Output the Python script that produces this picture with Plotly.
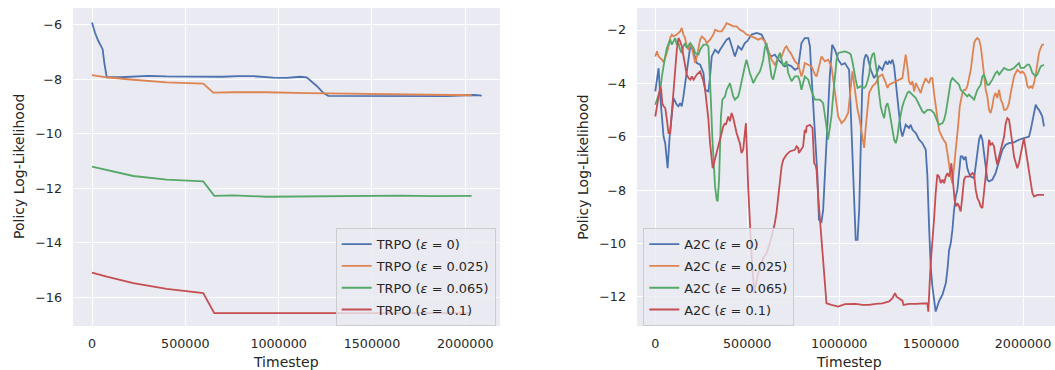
import numpy as np
import plotly.graph_objects as go

# ---------------- data (timesteps in thousands) ----------------
labels_eps = ["0", "0.025", "0.065", "0.1"]
colors = ["#4C72B0", "#DD8452", "#55A868", "#C44E52"]

trpo0_t = [0, 16, 34, 52, 57, 66, 79, 150, 221, 300, 400, 500, 614, 700, 780, 864, 971, 1043, 1114, 1150, 1204, 1239, 1266, 1382, 1471, 1600, 1700, 1829, 1900, 2007, 2050, 2088]
trpo0_v = [-5.92, -6.30, -6.60, -6.80, -6.90, -7.40, -7.93, -7.93, -7.90, -7.88, -7.90, -7.91, -7.90, -7.91, -7.89, -7.89, -7.94, -7.95, -7.91, -7.93, -8.25, -8.50, -8.61, -8.61, -8.63, -8.62, -8.63, -8.63, -8.62, -8.59, -8.58, -8.60]

trpo1_t = [0, 79, 221, 400, 596, 650, 757, 936, 1150, 1330, 1471, 1650, 1829, 2034]
trpo1_v = [-7.85, -7.93, -8.02, -8.12, -8.16, -8.49, -8.48, -8.48, -8.51, -8.53, -8.55, -8.56, -8.58, -8.59]

trpo2_t = [0, 79, 221, 400, 596, 655, 757, 936, 1150, 1330, 1471, 1650, 1829, 2034]
trpo2_v = [-11.21, -11.34, -11.55, -11.68, -11.75, -12.28, -12.26, -12.31, -12.30, -12.29, -12.27, -12.27, -12.29, -12.28]

trpo3_t = [0, 79, 221, 400, 596, 655, 850, 1100, 1400, 1700, 2034]
trpo3_v = [-15.09, -15.24, -15.48, -15.69, -15.84, -16.58, -16.58, -16.58, -16.58, -16.58, -16.58]

a2c0_t = [0, 18, 27, 36, 45, 54, 67, 78, 90, 99, 117, 126, 135, 144, 153, 171, 181, 190, 204, 217, 226, 244, 262, 271, 289, 298, 307, 325, 343, 352, 370, 388, 402, 415, 433, 451, 469, 487, 500,
          524, 551, 578, 596, 614, 632, 650, 669, 687, 705, 723, 741, 759, 777, 795, 813, 832, 841, 850, 868, 882, 890, 904, 913, 931, 949, 962, 977, 995, 1013, 1031,
          1054, 1063, 1072, 1081, 1090, 1100, 1109, 1118, 1127, 1136, 1145, 1154, 1163, 1172, 1190, 1203, 1217, 1235, 1245, 1254, 1263, 1272, 1281, 1290, 1299, 1308, 1317, 1326, 1335, 1344, 1353, 1362, 1380, 1389, 1399, 1417, 1435, 1453, 1471, 1480, 1489, 1498, 1507, 1516, 1525, 1534, 1543, 1562, 1580, 1589, 1598, 1607, 1616, 1625, 1634, 1643,
          1652, 1661, 1670, 1679, 1688, 1697, 1706, 1716, 1734, 1743, 1752, 1761, 1770, 1779, 1788, 1797, 1806, 1815, 1833, 1851, 1870, 1888, 1906, 1924, 1951, 1978, 2005, 2033, 2042, 2056, 2069, 2078, 2087, 2096, 2105, 2114]
a2c0_v = [-4.30, -3.43, -4.49, -5.24, -5.99, -6.24, -7.18, -5.99, -4.99, -4.55, -4.80, -4.86, -4.74, -4.86, -4.49, -3.49, -2.99, -2.61, -2.74, -3.05, -3.24, -3.30, -3.61, -4.24, -4.30, -3.74, -2.99, -2.74, -2.86, -2.74, -2.55, -2.36, -2.30, -2.61, -2.99, -2.61, -2.74, -2.49, -2.42,
          -2.17, -2.11, -2.17, -2.42, -2.86, -2.99, -2.92, -3.11, -3.24, -3.36, -3.30, -3.36, -3.49, -3.42, -2.49, -2.30, -2.30, -2.61, -3.74, -5.61, -7.49, -9.11, -9.18, -8.74, -6.24, -3.74, -2.55, -2.74, -3.11, -3.30, -3.24,
          -3.49, -4.99, -6.86, -8.74, -9.86, -9.86, -8.74, -6.24, -3.74, -3.11, -2.92, -2.99, -3.30, -3.49, -3.80, -3.67, -3.36, -3.49, -3.30, -3.17, -3.30, -3.17, -3.24, -3.11, -3.36, -3.99, -4.61, -5.24, -5.74, -5.99, -5.74, -5.55, -5.67, -5.55, -5.74, -5.86, -6.11, -6.24, -6.49, -7.49, -9.36, -10.86, -11.61, -12.11, -12.55, -12.36, -12.17, -11.92, -11.49, -10.99, -10.24, -9.99, -9.49, -8.74, -8.24, -7.99,
          -7.24, -6.74, -6.74, -6.86, -6.74, -7.18, -7.36, -7.49, -7.55, -7.11, -6.49, -6.11, -5.92, -6.11, -6.61, -7.24, -7.61, -7.67, -7.61, -7.36, -6.86, -6.49, -6.30, -6.24, -6.21, -6.11, -6.05, -5.99, -5.74, -5.24, -4.80, -4.92, -4.99, -5.11, -5.24, -5.61]

a2c1_t = [0, 9, 18, 36, 45, 54, 63, 72, 81, 90, 99, 117, 126, 135, 144, 153, 162, 171, 181, 190, 199, 208, 217, 226, 235, 244, 253, 271, 280, 298, 316, 325, 343, 361, 379, 388, 406, 424, 442, 460, 478, 496,
          524, 560, 578, 596, 614, 632, 650, 669, 687, 705, 714, 723, 741, 759, 777, 795, 804, 813, 832, 850, 868, 877, 886, 904, 922, 940, 958, 967, 977, 986, 995, 1013, 1031, 1049,
          1063, 1072, 1081, 1090, 1100, 1109, 1118, 1127, 1136, 1145, 1154, 1163, 1181, 1199, 1217, 1235, 1254, 1263, 1272, 1308, 1344, 1353, 1362, 1371, 1380, 1389, 1399, 1408, 1417, 1435, 1444, 1453, 1471, 1480, 1489, 1498, 1507, 1516, 1525, 1534, 1543, 1562, 1580, 1589, 1598, 1607, 1616, 1628, 1638, 1647,
          1656, 1665, 1670, 1679, 1688, 1697, 1706, 1716, 1725, 1734, 1743, 1752, 1761, 1770, 1779, 1788, 1797, 1806, 1815, 1824, 1833, 1842, 1851, 1860, 1870, 1879, 1888, 1897, 1906, 1915, 1924, 1933, 1942, 1951, 1960, 1969, 1978, 1987, 1996, 2005, 2014, 2024, 2033, 2042, 2051, 2060, 2069, 2078, 2087, 2096, 2105, 2114]
a2c1_v = [-2.99, -2.80, -2.99, -3.11, -3.21, -3.05, -2.86, -2.61, -2.30, -2.17, -2.24, -2.17, -2.11, -2.05, -1.92, -2.17, -2.30, -2.61, -2.74, -2.49, -2.67, -2.99, -3.24, -2.99, -2.61, -2.36, -2.24, -2.36, -2.49, -2.36, -2.17, -1.99, -2.05, -2.05, -1.86, -1.74, -1.80, -1.86, -1.86, -1.99, -2.05, -2.17,
          -2.24, -2.36, -2.30, -2.42, -2.74, -3.11, -3.30, -3.05, -2.99, -2.67, -2.61, -2.74, -2.92, -3.17, -3.30, -3.74, -3.55, -3.24, -3.30, -3.36, -3.67, -3.74, -3.49, -2.99, -3.17, -3.11, -3.36, -3.86, -4.36, -4.86, -5.24, -5.49, -5.36, -5.11,
          -4.24, -3.55, -3.99, -4.49, -4.99, -5.24, -5.61, -5.99, -6.42, -5.61, -4.86, -4.36, -4.11, -3.99, -3.74, -3.67, -3.99, -4.17, -4.05, -3.92, -3.80, -3.36, -2.92, -3.36, -3.92, -4.05, -3.92, -4.30, -3.99, -4.24, -4.36, -4.11, -3.80, -3.92, -3.99, -3.80, -3.80, -4.36, -4.86, -5.36, -5.74, -6.05, -6.24, -6.61, -7.11, -7.49, -7.74, -7.00, -6.30, -5.60,
          -4.86, -4.49, -4.36, -4.24, -4.24, -4.11, -3.86, -3.49, -2.99, -2.49, -2.36, -2.30, -2.36, -2.61, -3.11, -3.74, -4.24, -4.49, -4.99, -5.11, -4.86, -4.49, -4.36, -4.55, -4.24, -4.61, -4.74, -4.99, -4.99, -4.92, -4.74, -4.36, -4.05, -3.74, -3.61, -3.49, -3.55, -3.61, -3.55, -3.61, -3.74, -4.11, -4.17, -4.11, -4.17, -3.99, -3.67, -3.24, -2.86, -2.67, -2.55, -2.55]

a2c2_t = [0, 9, 18, 27, 36, 45, 54, 63, 72, 81, 90, 99, 108, 117, 126, 135, 144, 153, 162, 171, 190, 208, 217, 235, 244, 262, 280, 289, 298, 303, 310, 316, 325, 334, 339, 347, 352, 357, 365, 379, 388, 397, 406, 415, 424, 433, 451, 460, 469, 478, 487, 496,
          505, 514, 524, 533, 551, 569, 578, 587, 596, 605, 614, 623, 632, 641, 650, 659, 669, 678, 687, 696, 714, 723, 741, 759, 777, 786, 795, 804, 813, 832, 841, 850, 868, 895, 913, 922, 931, 940, 949, 958, 967, 977, 986, 995, 1031,
          1054, 1063, 1072, 1081, 1090, 1100, 1118, 1136, 1145, 1154, 1163, 1172, 1181, 1190, 1199, 1208, 1217, 1226, 1235, 1245, 1254, 1263, 1272, 1281, 1290, 1299, 1308, 1317, 1326, 1335, 1344, 1353, 1362, 1371, 1380, 1399, 1417, 1435, 1453, 1462, 1480, 1498, 1516, 1534, 1543, 1562, 1571, 1580, 1589, 1598, 1607, 1616, 1634, 1652,
          1661, 1679, 1697, 1706, 1725, 1734, 1743, 1752, 1770, 1779, 1788, 1797, 1806, 1815, 1833, 1851, 1860, 1870, 1888, 1897, 1915, 1933, 1951, 1969, 1978, 1987, 2005, 2024, 2033, 2042, 2051, 2069, 2078, 2096, 2114]
a2c2_v = [-4.80, -4.61, -4.42, -4.24, -3.74, -3.30, -2.99, -2.67, -2.49, -2.36, -2.55, -2.42, -2.30, -2.55, -2.49, -2.74, -2.86, -2.61, -2.49, -2.67, -2.49, -2.67, -2.86, -2.92, -2.74, -2.55, -2.55, -2.61, -3.74, -4.74, -5.99, -6.99, -7.86, -8.36, -8.42, -7.61, -6.24, -5.24, -4.61, -4.49, -4.24, -4.11, -3.99, -4.24, -4.49, -4.61, -4.49, -4.24, -3.92, -3.74, -3.36, -3.11,
          -3.42, -3.61, -3.80, -3.99, -3.74, -3.55, -3.36, -3.11, -2.67, -2.49, -2.86, -3.42, -3.74, -3.86, -3.61, -3.36, -2.99, -2.86, -3.11, -3.36, -3.17, -3.61, -3.92, -3.74, -3.74, -3.92, -4.24, -3.92, -3.74, -3.86, -4.11, -4.30, -4.61, -4.61, -4.74, -5.11, -5.61, -6.11, -5.74, -5.24, -4.49, -3.74, -3.11, -2.86, -2.80,
          -2.86, -2.92, -3.17, -3.61, -3.86, -4.17, -4.11, -4.17, -4.11, -3.92, -3.67, -3.11, -2.92, -2.86, -3.24, -3.74, -4.36, -4.86, -5.11, -5.30, -4.86, -4.74, -4.99, -5.36, -5.74, -6.11, -6.24, -5.99, -5.49, -5.11, -4.86, -4.67, -4.49, -4.36, -4.30, -4.42, -4.55, -4.80, -5.05, -5.11, -4.99, -4.99, -5.11, -5.42, -5.55, -5.49, -5.36, -5.11, -4.74, -4.36, -3.92, -3.80, -3.92, -4.05,
          -4.24, -4.36, -4.49, -4.42, -4.55, -4.61, -4.42, -4.24, -4.05, -3.74, -3.67, -3.86, -4.05, -4.05, -3.86, -3.61, -3.55, -3.67, -3.49, -3.42, -3.49, -3.49, -3.42, -3.30, -3.24, -3.42, -3.42, -3.30, -3.30, -3.42, -3.61, -3.74, -3.67, -3.36, -3.30]

a2c3_t = [0, 9, 18, 27, 32, 38, 45, 54, 63, 72, 81, 90, 99, 108, 117, 126, 135, 144, 153, 162, 171, 181, 190, 199, 208, 226, 244, 253, 262, 271, 280, 289, 298, 307, 312, 319, 334, 352, 361, 370, 379, 384, 392, 397, 406, 415, 424, 433, 442, 451, 460, 469, 478, 487, 493,
          505, 514, 524, 533, 538, 545, 560, 578, 587, 605, 623, 641, 650, 659, 669, 678, 687, 696, 714, 732, 759, 768, 777, 781, 786, 804, 813, 819, 823, 841, 855, 859, 864, 871, 877, 886, 895, 904, 913, 922, 931, 958, 995, 1031,
          1090, 1127, 1163, 1199, 1235, 1272, 1290, 1299, 1304, 1312, 1326, 1344, 1350, 1380, 1417, 1453, 1480, 1485, 1489, 1495, 1502, 1507, 1516, 1525, 1534, 1543, 1553, 1562, 1571, 1580,
          1589, 1598, 1607, 1610, 1616, 1621, 1628, 1636, 1643, 1652, 1661, 1670, 1679, 1688, 1706, 1725, 1734, 1743, 1752, 1761, 1770, 1779, 1788, 1797, 1806, 1815, 1824, 1833, 1842, 1851, 1860, 1870, 1879, 1888, 1897, 1906, 1915, 1924, 1933, 1942, 1951, 1960, 1969, 1978, 1987, 1996, 2005, 2014, 2024, 2033, 2042, 2051, 2060, 2078, 2114]
a2c3_v = [-5.24, -4.86, -4.49, -4.11, -4.24, -4.74, -4.86, -4.92, -5.36, -5.86, -5.86, -4.99, -4.24, -3.36, -2.74, -2.30, -2.42, -2.61, -2.99, -3.30, -3.67, -3.80, -3.86, -3.74, -3.86, -3.67, -3.55, -3.74, -3.92, -4.24, -4.74, -5.36, -6.24, -6.86, -7.18, -6.99, -6.61, -6.11, -5.86, -5.61, -5.49, -5.55, -5.36, -5.24, -5.42, -5.11, -5.30, -5.61, -5.86, -6.05, -6.24, -6.61, -6.49, -5.86, -5.49,
          -7.86, -9.24, -10.49, -11.36, -11.86, -11.61, -11.11, -10.74, -10.55, -10.36, -9.99, -9.49, -9.24, -8.86, -8.24, -7.61, -7.11, -6.86, -6.67, -6.55, -6.49, -6.36, -6.42, -6.61, -6.55, -6.36, -5.74, -5.86, -5.61, -5.55, -5.67, -6.24, -6.99, -7.05, -7.24, -8.24, -8.99, -9.86, -10.49, -11.49, -12.24, -12.30, -12.36, -12.27,
          -12.26, -12.30, -12.30, -12.26, -12.24, -12.17, -12.05, -11.92, -11.86, -11.99, -12.05, -12.14, -12.30, -12.26, -12.26, -12.26, -12.24, -12.55, -11.86, -11.11, -10.36, -9.99, -9.11, -8.11, -7.42, -7.49, -7.74, -7.61, -7.74, -7.49,
          -7.36, -7.49, -7.24, -6.99, -7.49, -7.99, -8.36, -8.61, -8.49, -8.61, -8.80, -8.24, -7.61, -7.49, -7.49, -7.36, -7.42, -7.99, -8.30, -8.42, -8.61, -8.67, -8.11, -7.61, -6.86, -6.11, -6.30, -6.24, -6.36, -6.74, -7.05, -6.74, -6.49, -6.24, -5.99, -5.49, -5.30, -5.36, -5.74, -6.24, -6.74, -6.99, -7.18, -6.99, -6.61, -6.36, -6.05, -6.49, -6.86, -7.36, -7.74, -8.11, -8.24, -8.18, -8.18]

x_ticks = [0, 500000, 1000000, 1500000, 2000000]
trpo_yticks = [-16, -14, -12, -10, -8, -6]
a2c_yticks = [-12, -10, -8, -6, -4, -2]

trpo_t = [trpo0_t, trpo1_t, trpo2_t, trpo3_t]
trpo_v = [trpo0_v, trpo1_v, trpo2_v, trpo3_v]
a2c_t = [a2c0_t, a2c1_t, a2c2_t, a2c3_t]
a2c_v = [a2c0_v, a2c1_v, a2c2_v, a2c3_v]

# ---------------- figure ----------------
W, H = 1055, 370
ML, MR, MT, MB = 0, 0, 8, 44
PH = H - MT - MB
FONT = "DejaVu Sans"
TXT = "#262626"

fig = go.Figure()
for i in range(4):
    fig.add_trace(go.Scatter(
        x=np.array(trpo_t[i]) * 1000, y=trpo_v[i], mode="lines",
        line=dict(color=colors[i], width=1.8),
        name=f"TRPO (<i>ε</i> = {labels_eps[i]})",
        legend="legend", legendgroup=f"t{i}",
        xaxis="x", yaxis="y"))
for i in range(4):
    fig.add_trace(go.Scatter(
        x=np.array(a2c_t[i]) * 1000, y=a2c_v[i], mode="lines",
        line=dict(color=colors[i], width=1.8),
        name=f"A2C (<i>ε</i> = {labels_eps[i]})",
        legend="legend2", legendgroup=f"a{i}",
        xaxis="x2", yaxis="y2"))

axis_common = dict(showgrid=True, gridcolor="white", gridwidth=1.3, zeroline=False,
                   showline=False, ticks="", tickfont=dict(family=FONT, size=12.7, color=TXT))

leg_common = dict(xanchor="left", yanchor="top",
                  bgcolor="rgba(234,234,242,0.8)", bordercolor="#CCCCCC", borderwidth=1,
                  font=dict(family=FONT, size=12.9, color=TXT), traceorder="grouped",
                  tracegroupgap=2)

fig.update_layout(
    width=W, height=H,
    margin=dict(l=ML, r=MR, t=MT, b=MB),
    paper_bgcolor="white", plot_bgcolor="#EAEAF2",
    font=dict(family=FONT, color=TXT),
    showlegend=True,
    xaxis=dict(domain=[73 / W, 500 / W], range=[-101800, 2186000], tickvals=x_ticks,
               tickformat="d", anchor="y", ticklabelstandoff=8, **axis_common),
    yaxis=dict(domain=[0, 1], range=[-17.05, -5.39], tickvals=trpo_yticks, anchor="x",
               ticklabelstandoff=10, **axis_common),
    xaxis2=dict(domain=[637 / W, 1.0], range=[-99500, 2174000], tickvals=x_ticks,
                tickformat="d", anchor="y2", ticklabelstandoff=8, **axis_common),
    yaxis2=dict(domain=[0, 1], range=[-13.09, -1.175], tickvals=a2c_yticks, anchor="x2",
                ticklabelstandoff=10, **axis_common),
    legend=dict(x=335.7 / W, y=(H - MB - 228.3) / PH, **leg_common),
    legend2=dict(x=643.3 / W, y=(H - MB - 228.3) / PH, **leg_common),
)

title_font = dict(family=FONT, size=14, color=TXT)
ann = [
    dict(text="Timestep", x=286.5 / W, y=-(362 - (H - MB)) / PH, xref="paper", yref="paper",
         showarrow=False, xanchor="center", yanchor="middle", font=title_font),
    dict(text="Timestep", x=849 / W, y=-(362 - (H - MB)) / PH, xref="paper", yref="paper",
         showarrow=False, xanchor="center", yanchor="middle", font=title_font),
    dict(text="Policy Log-Likelihood", x=19 / W, y=0.5, xref="paper", yref="paper",
         showarrow=False, xanchor="center", yanchor="middle", textangle=-90, font=title_font),
    dict(text="Policy Log-Likelihood", x=582.7 / W, y=0.5, xref="paper", yref="paper",
         showarrow=False, xanchor="center", yanchor="middle", textangle=-90, font=title_font),
]
fig.update_layout(annotations=ann)

fig.write_html("out.html",
               config={"displayModeBar": False},
               post_script="document.body.style.margin='0';document.body.style.overflow='hidden';")
